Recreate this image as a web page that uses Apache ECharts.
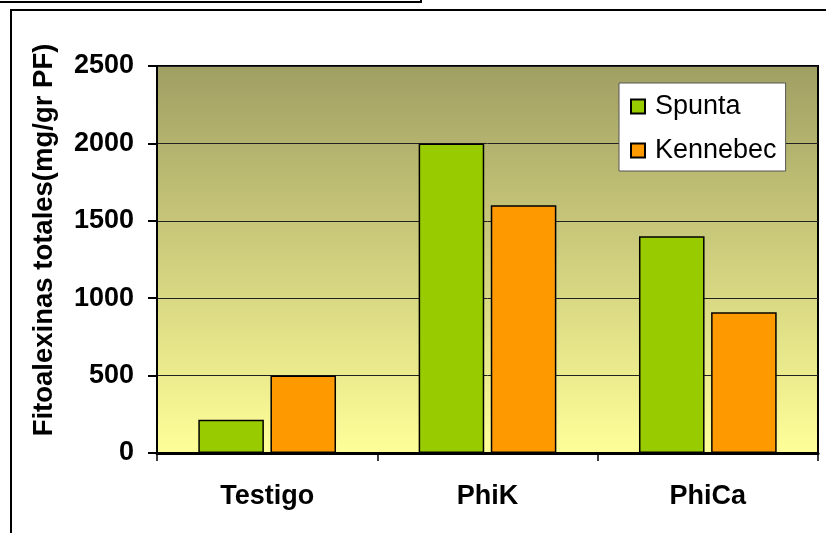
<!DOCTYPE html>
<html>
<head>
<meta charset="utf-8">
<script src="https://cdn.jsdelivr.net/npm/echarts@6/dist/echarts.min.js"></script>
<style>
    html, body {margin: 0; padding: 0; background: #fff;}
    #main {width: 826px; height: 533px;}
</style>
</head>
<body>
<div id="main"></div>
<script>
// datos
var categorias = ['Testigo', 'PhiK', 'PhiCa'];
var spunta = [215, 2000, 1400];
var kennebec = [500, 1600, 910];
var nombresSeries = ['Spunta', 'Kennebec'];
var coloresSeries = ['#99cc00', '#ff9900'];
var tituloY = 'Fitoalexinas totales(mg/gr PF)';

var fuente = 'Arial, "Liberation Sans", sans-serif';

var myChart = echarts.init(document.getElementById('main'), null, {renderer: 'canvas'});

function crearSerie(nombre, datos, color) {
    return {
        name: nombre,
        type: 'bar',
        data: datos,
        barGap: '10%',
        barCategoryGap: '37.5%',
        itemStyle: {
            color: color,
            borderColor: '#000',
            borderWidth: 1.5
        }
    };
}

var option = {
    animation: false,
    backgroundColor: '#fff',
    grid: {
        left: 157,
        right: 8,
        top: 66,
        bottom: 80,
        show: true,
        borderColor: '#000',
        borderWidth: 2,
        backgroundColor: new echarts.graphic.LinearGradient(0, 0, 0, 1, [
            {offset: 0, color: '#a09f63'},
            {offset: 1, color: '#ffff99'}
        ])
    },
    legend: {
        orient: 'vertical',
        left: 619,
        top: 83,
        padding: [8, 9, 5, 11],
        itemGap: 13,
        itemWidth: 14,
        itemHeight: 14,
        backgroundColor: '#fff',
        borderColor: '#555',
        borderWidth: 1,
        icon: 'rect',
        textStyle: {
            fontFamily: fuente,
            fontSize: 27,
            lineHeight: 31,
            color: '#000',
            padding: [0, 0, 0, 5]
        },
        data: nombresSeries
    },
    xAxis: {
        type: 'category',
        data: categorias,
        axisLine: {lineStyle: {color: '#000', width: 3}},
        axisTick: {show: true, length: 8, lineStyle: {color: '#000', width: 1.5}},
        axisLabel: {
            margin: 30,
            fontFamily: fuente,
            fontSize: 27,
            fontWeight: 'bold',
            color: '#000'
        }
    },
    yAxis: {
        type: 'value',
        min: 0,
        max: 2500,
        interval: 500,
        axisLine: {show: true, lineStyle: {color: '#000', width: 2}},
        axisTick: {show: true, length: 9, lineStyle: {color: '#000', width: 2}},
        axisLabel: {
            margin: 23,
            fontFamily: fuente,
            fontSize: 27,
            fontWeight: 'bold',
            color: '#000',
            formatter: function (v) { return String(v); }
        },
        splitLine: {show: true, lineStyle: {color: '#222', width: 1}}
    },
    graphic: [
        // marco exterior
        {
            type: 'rect',
            shape: {x: 11, y: 10, width: 840, height: 560},
            style: {fill: null, stroke: '#000', lineWidth: 2},
            z: 100
        },
        {
            type: 'rect',
            shape: {x: -5, y: -30, width: 426, height: 32},
            style: {fill: null, stroke: '#000', lineWidth: 2},
            z: 100
        },
        // titulo eje Y
        {
            type: 'text',
            x: 44,
            y: 240,
            rotation: Math.PI / 2,
            style: {
                text: tituloY,
                fontFamily: fuente,
                fontSize: 27.5,
                fontWeight: 'bold',
                fill: '#000',
                align: 'center',
                verticalAlign: 'middle'
            },
            z: 100
        }
    ],
    series: [
        crearSerie(nombresSeries[0], spunta, coloresSeries[0]),
        crearSerie(nombresSeries[1], kennebec, coloresSeries[1])
    ]
};

myChart.setOption(option);
</script>
</body>
</html>
